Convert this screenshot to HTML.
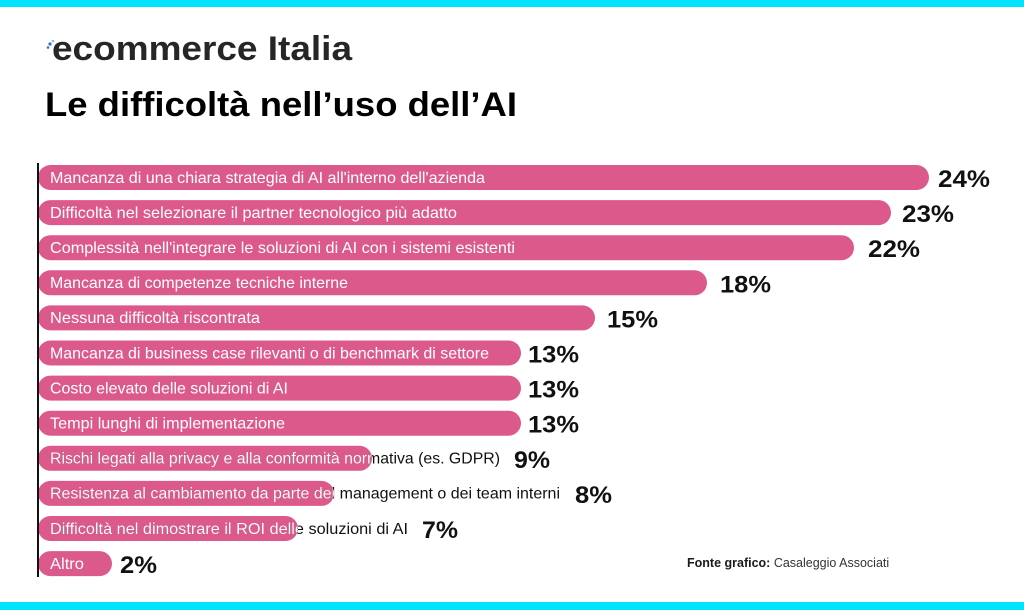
<!DOCTYPE html>
<html>
<head>
<meta charset="utf-8">
<style>
html,body{margin:0;padding:0;background:#fff;}
svg{display:block;}
</style>
</head>
<body>
<svg width="1024" height="610" viewBox="0 0 1024 610" xmlns="http://www.w3.org/2000/svg">
<rect x="0" y="0" width="1024" height="610" fill="#ffffff"/>
<rect x="0" y="0" width="1024" height="7" fill="#00e3fd"/>
<rect x="0" y="602" width="1024" height="8" fill="#00e3fd"/>

<!-- logo -->
<circle cx="50" cy="44" r="1.6" fill="#2f6fd6"/>
<circle cx="53" cy="41" r="1.3" fill="#8fb4ee"/>
<circle cx="48" cy="47.5" r="1.3" fill="#2f6fd6"/>
<text x="52" y="60" font-family="Liberation Sans, sans-serif" font-weight="bold" font-size="34" fill="#262626" textLength="300" lengthAdjust="spacingAndGlyphs">ecommerce Italia</text>

<!-- title -->
<text x="45" y="116" font-family="Liberation Sans, sans-serif" font-weight="bold" font-size="34" fill="#000" textLength="472" lengthAdjust="spacingAndGlyphs">Le difficoltà nell’uso dell’AI</text>

<defs>
<clipPath id="c1"><rect x="38" y="165" width="891" height="25" rx="12.5"/></clipPath>
<clipPath id="c2"><rect x="38" y="200.1" width="853" height="25" rx="12.5"/></clipPath>
<clipPath id="c3"><rect x="38" y="235.2" width="816" height="25" rx="12.5"/></clipPath>
<clipPath id="c4"><rect x="38" y="270.3" width="669" height="25" rx="12.5"/></clipPath>
<clipPath id="c5"><rect x="38" y="305.4" width="557" height="25" rx="12.5"/></clipPath>
<clipPath id="c6"><rect x="38" y="340.5" width="483" height="25" rx="12.5"/></clipPath>
<clipPath id="c7"><rect x="38" y="375.6" width="483" height="25" rx="12.5"/></clipPath>
<clipPath id="c8"><rect x="38" y="410.7" width="483" height="25" rx="12.5"/></clipPath>
<clipPath id="c9"><rect x="38" y="445.8" width="334" height="25" rx="12.5"/></clipPath>
<clipPath id="c10"><rect x="38" y="480.9" width="296" height="25" rx="12.5"/></clipPath>
<clipPath id="c11"><rect x="38" y="516" width="260" height="25" rx="12.5"/></clipPath>
<clipPath id="c12"><rect x="38" y="551.1" width="74" height="25" rx="12.5"/></clipPath>
</defs>

<g fill="#dc5a8b">
<rect x="38" y="165" width="891" height="25" rx="12.5"/>
<rect x="38" y="200.1" width="853" height="25" rx="12.5"/>
<rect x="38" y="235.2" width="816" height="25" rx="12.5"/>
<rect x="38" y="270.3" width="669" height="25" rx="12.5"/>
<rect x="38" y="305.4" width="557" height="25" rx="12.5"/>
<rect x="38" y="340.5" width="483" height="25" rx="12.5"/>
<rect x="38" y="375.6" width="483" height="25" rx="12.5"/>
<rect x="38" y="410.7" width="483" height="25" rx="12.5"/>
<rect x="38" y="445.8" width="334" height="25" rx="12.5"/>
<rect x="38" y="480.9" width="296" height="25" rx="12.5"/>
<rect x="38" y="516" width="260" height="25" rx="12.5"/>
<rect x="38" y="551.1" width="74" height="25" rx="12.5"/>
</g>

<!-- axis line -->
<rect x="37" y="163" width="2" height="414" fill="#111"/>

<g font-family="Liberation Sans, sans-serif" font-size="16">
<text x="50" y="463.6" fill="#111" textLength="450" lengthAdjust="spacingAndGlyphs">Rischi legati alla privacy e alla conformità normativa (es. GDPR)</text>
<text x="50" y="498.7" fill="#111" textLength="510" lengthAdjust="spacingAndGlyphs">Resistenza al cambiamento da parte del management o dei team interni</text>
<text x="50" y="533.8" fill="#111" textLength="358" lengthAdjust="spacingAndGlyphs">Difficoltà nel dimostrare il ROI delle soluzioni di AI</text>

<text x="50" y="182.8" fill="#fff" textLength="435" lengthAdjust="spacingAndGlyphs" clip-path="url(#c1)">Mancanza di una chiara strategia di AI all'interno dell'azienda</text>
<text x="50" y="217.9" fill="#fff" textLength="407" lengthAdjust="spacingAndGlyphs" clip-path="url(#c2)">Difficoltà nel selezionare il partner tecnologico più adatto</text>
<text x="50" y="253" fill="#fff" textLength="465" lengthAdjust="spacingAndGlyphs" clip-path="url(#c3)">Complessità nell'integrare le soluzioni di AI con i sistemi esistenti</text>
<text x="50" y="288.1" fill="#fff" textLength="298" lengthAdjust="spacingAndGlyphs" clip-path="url(#c4)">Mancanza di competenze tecniche interne</text>
<text x="50" y="323.2" fill="#fff" textLength="210" lengthAdjust="spacingAndGlyphs" clip-path="url(#c5)">Nessuna difficoltà riscontrata</text>
<text x="50" y="358.3" fill="#fff" textLength="439" lengthAdjust="spacingAndGlyphs" clip-path="url(#c6)">Mancanza di business case rilevanti o di benchmark di settore</text>
<text x="50" y="393.4" fill="#fff" textLength="238" lengthAdjust="spacingAndGlyphs" clip-path="url(#c7)">Costo elevato delle soluzioni di AI</text>
<text x="50" y="428.5" fill="#fff" textLength="235" lengthAdjust="spacingAndGlyphs" clip-path="url(#c8)">Tempi lunghi di implementazione</text>
<text x="50" y="463.6" fill="#fff" textLength="450" lengthAdjust="spacingAndGlyphs" clip-path="url(#c9)">Rischi legati alla privacy e alla conformità normativa (es. GDPR)</text>
<text x="50" y="498.7" fill="#fff" textLength="510" lengthAdjust="spacingAndGlyphs" clip-path="url(#c10)">Resistenza al cambiamento da parte del management o dei team interni</text>
<text x="50" y="533.8" fill="#fff" textLength="358" lengthAdjust="spacingAndGlyphs" clip-path="url(#c11)">Difficoltà nel dimostrare il ROI delle soluzioni di AI</text>
<text x="50" y="568.9" fill="#fff" textLength="34" lengthAdjust="spacingAndGlyphs" clip-path="url(#c12)">Altro</text>
</g>

<g font-family="Liberation Sans, sans-serif" font-weight="bold" font-size="24" fill="#111">
<text x="938" y="187" textLength="52" lengthAdjust="spacingAndGlyphs">24%</text>
<text x="902" y="222.1" textLength="52" lengthAdjust="spacingAndGlyphs">23%</text>
<text x="868" y="257.2" textLength="52" lengthAdjust="spacingAndGlyphs">22%</text>
<text x="720" y="292.3" textLength="51" lengthAdjust="spacingAndGlyphs">18%</text>
<text x="607" y="327.4" textLength="51" lengthAdjust="spacingAndGlyphs">15%</text>
<text x="528" y="362.5" textLength="51" lengthAdjust="spacingAndGlyphs">13%</text>
<text x="528" y="397.6" textLength="51" lengthAdjust="spacingAndGlyphs">13%</text>
<text x="528" y="432.7" textLength="51" lengthAdjust="spacingAndGlyphs">13%</text>
<text x="514" y="467.8" textLength="36" lengthAdjust="spacingAndGlyphs">9%</text>
<text x="575" y="502.9" textLength="37" lengthAdjust="spacingAndGlyphs">8%</text>
<text x="422" y="538" textLength="36" lengthAdjust="spacingAndGlyphs">7%</text>
<text x="120" y="573.1" textLength="37" lengthAdjust="spacingAndGlyphs">2%</text>
</g>

<!-- source -->
<text x="687" y="567" font-family="Liberation Sans, sans-serif" font-size="12.5" fill="#333"><tspan font-weight="bold" fill="#1a1a1a">Fonte grafico:</tspan> Casaleggio Associati</text>
</svg>
</body>
</html>
